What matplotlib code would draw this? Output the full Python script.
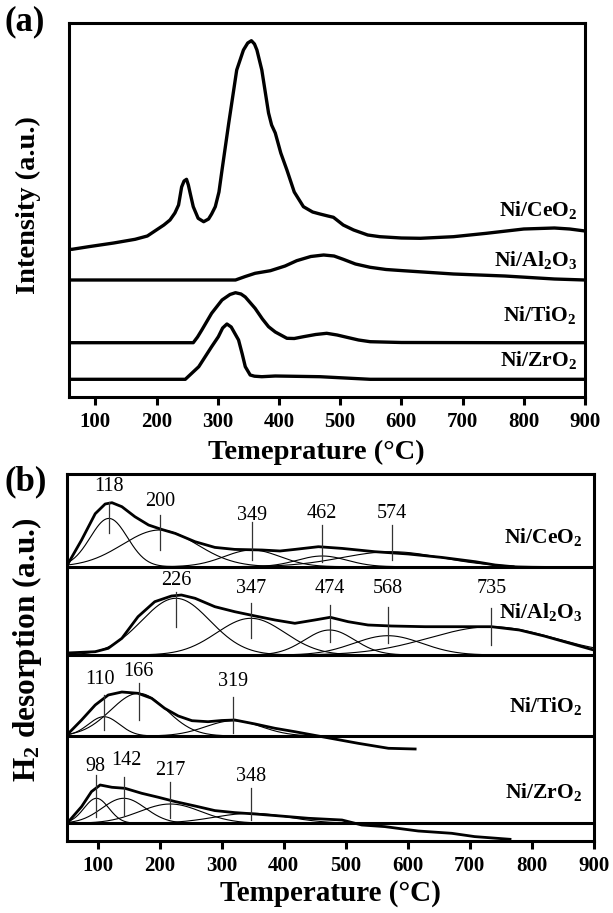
import numpy as np
import matplotlib.pyplot as plt

plt.rcParams['font.family'] = ['Liberation Serif', 'DejaVu Serif']
plt.rcParams['mathtext.fontset'] = 'custom'
plt.rcParams['mathtext.rm'] = 'Liberation Serif'
plt.rcParams['mathtext.bf'] = 'Liberation Serif:bold'

# ---------------- panel (a): TPR profiles (intensity, a.u.) ----------------
a_names = [r'$\mathbf{Ni/CeO_2}$', r'$\mathbf{Ni/Al_2O_3}$', r'$\mathbf{Ni/TiO_2}$', r'$\mathbf{Ni/ZrO_2}$']

ce_T = [57, 62, 89, 130, 165, 185, 198, 212, 222, 230, 236, 241, 245, 249, 252, 255, 260, 268, 277, 285, 290, 296,
        302, 307, 318, 331, 342, 349, 355, 360, 364, 372, 383, 388, 394, 403, 413, 425, 440, 455, 467, 480, 489, 505,
        522, 545, 565, 600, 631, 685, 739, 800, 850, 875, 900]
ce_I = [147.7, 147.7, 150.3, 154, 157.7, 161, 166.3, 172, 177, 184, 192, 210, 216, 217.7, 212, 203.7, 190.3, 178.7,
        175.3, 178, 183, 190.3, 205, 227, 274, 327, 347, 354, 356.3, 353, 347, 327, 284, 272, 264, 244, 227, 205,
        190.3, 185, 183, 181, 179.7, 172, 167, 162, 160.3, 159, 158.7, 160.3, 163.7, 168, 169, 168, 166]

al_T = [57, 329, 345, 361, 386, 410, 429, 452, 473, 490, 505, 525, 549, 575, 603, 685, 769, 850, 900]
al_I = [117, 117, 120.5, 123.7, 126.3, 131, 136.3, 140.5, 142, 141, 137.7, 133, 129.7, 127.5, 126.3, 123, 121, 118, 117]

ti_T = [57, 260, 267, 274, 290, 307, 320, 329, 338, 345, 361, 373, 383, 394, 413, 425, 440, 460, 478, 495, 511,
        530, 549, 600, 769, 900]
ti_I = [54.3, 54.3, 60, 67, 83.7, 97, 102.5, 104.3, 103, 100, 88.7, 78, 70.3, 65, 58.7, 58.5, 60.3, 62.5, 63.7, 62,
        59.7, 57, 55.3, 54.5, 54.3, 54.3]

zr_T = [57, 247, 258, 269, 290, 301, 308, 315, 322, 334, 340, 345, 353, 360, 372, 394, 467, 549, 900]
zr_I = [17.7, 17.7, 24, 30.3, 50.3, 60.3, 69, 73, 70, 57, 43, 30.3, 22, 20.8, 20.3, 21, 20.3, 17.7, 17.7]

# ---------------- panel (b): H2-TPD with deconvoluted peaks ----------------
b_names = a_names

ceb_T = [50, 54, 74, 96, 112, 123, 139, 160, 182, 203, 225, 257, 289, 321, 365, 394, 418, 456, 494, 547, 601, 655, 709, 741, 770]
ceb_I = [0, 5, 26.7, 53, 62.7, 64, 60, 50, 41.7, 37.3, 33.3, 25, 19.3, 17.3, 16.7, 15.7, 17.3, 20, 18.3, 15, 12.7, 9.3, 5, 1.7, 0]
ce_peaks = [118, 200, 349, 462, 574]
ce_amp = [48.3, 36.7, 16.7, 10.7, 15]
ce_wid = [30, 60, 45, 40, 80]

alb_T = [50, 96, 117, 139, 165, 192, 219, 235, 257, 289, 321, 354, 386, 418, 450, 475, 504, 536, 574, 628, 682, 735, 780, 820, 860, 900]
alb_I = [2, 3.3, 6.7, 16.7, 38.3, 53.3, 59, 60, 56.7, 48.3, 43.3, 39, 35, 31.7, 35, 37.7, 33.3, 30, 29, 28.3, 28.3, 28.3, 25, 19, 12, 5]
al_peaks = [226, 347, 474, 568, 735]
al_amp = [56.7, 36.7, 25, 19.3, 28.3]
al_wid = [55, 55, 40, 55, 100]

tib_T = [50, 53, 74, 96, 117, 139, 165, 187, 208, 230, 252, 278, 300, 321, 354, 386, 418, 467, 520, 569, 612]
tib_I = [0, 2.7, 16, 31, 41, 44, 42.7, 37.7, 27.7, 20, 15.3, 14.3, 15.5, 16, 12, 7.7, 4.3, -1.3, -7.3, -12.3, -13]
ti_peaks = [110, 166, 319]
ti_amp = [19.3, 42.7, 15.3]
ti_wid = [25, 45, 45]

zrb_T = [50, 53, 74, 90, 104, 123, 144, 171, 198, 225, 257, 289, 321, 354, 391, 440, 494, 526, 563, 617, 671, 708, 765]
zrb_I = [0, 1.7, 16.7, 31.7, 38.3, 36, 35, 30, 26, 21.7, 17.3, 12.7, 10.7, 9.3, 7.5, 5, 3.3, -1.7, -3.3, -7.7, -10, -13.3, -16]
zr_peaks = [98, 142, 217, 348]
zr_amp = [25, 25, 19.3, 10]
zr_wid = [20, 35, 50, 60]

ticks = [100, 200, 300, 400, 500, 600, 700, 800, 900]

# layout of panel (b): baselines, series label heights, peak label heights, marker line ranges
b_base = [274.0, 185.7, 104.7, 17.4]
b_name_y = [304, 228.7, 134.7, 49]
pk_text_y = [[354, 339, 325.7, 327.4, 327.4],
             [260.7, 252.4, 252.4, 252.4, 252.4],
             [161.4, 169, 159],
             [74, 80.7, 70.7, 64.7]]
pk_line = [[(339, 307.7), (325.7, 290.7), (318.7, 280.7), (315.7, 279), (315.7, 280.7)],
           [(249, 214), (237.7, 202.7), (235.7, 199), (234, 197.7), (232.7, 195.7)],
           [(145.7, 110.7), (157.7, 120.7), (144, 107.4)],
           [(65.7, 24), (64, 25.7), (59, 22.4), (52.4, 20.7)]]
pk_text_dx = [[0, 0, 0, 0, 0], [0, 0, 0, 0, 0], [-6, 0, 0], [-2, 4, 0, 0]]

W, H = 613, 913
fig = plt.figure(figsize=(W / 100, H / 100), dpi=100)
ax_a = fig.add_axes([69 / W, 1 - 397 / H, 516 / W, 374 / H])
ax_b = fig.add_axes([66.7 / W, 1 - 840.7 / H, 527 / W, 366.7 / H])


def style(ax, xmin, ymax):
    ax.set_xlim(xmin, 900)
    ax.set_ylim(0, ymax)
    ax.set_yticks([])
    ax.set_xticks(ticks)
    ax.tick_params(axis='x', direction='out', length=6, width=2.2, labelsize=15, pad=5)
    for t in ax.get_xticklabels():
        t.set_fontweight('bold')
    for s in ax.spines.values():
        s.set_linewidth(2.2)


# panel (a)
style(ax_a, 57, 374)
for T, I in [(ce_T, ce_I), (al_T, al_I), (ti_T, ti_I), (zr_T, zr_I)]:
    ax_a.plot(T, I, color='black', lw=2.4, solid_capstyle='round', solid_joinstyle='round')
for name, y in zip(a_names, [187, 137, 82, 37]):
    ax_a.text(887, y, name, fontsize=15.5, ha='right', va='center')
ax_a.set_xlabel('Temeprature (°C)', fontsize=20.5, fontweight='bold')
ax_a.xaxis.set_label_coords(0.479, -0.147, transform=ax_a.transAxes)
ax_a.xaxis.label.set_va('center')
fig.text(28 / W, 1 - 205 / H, 'Intensity (a.u.)', rotation=90, fontsize=20.5, fontweight='bold',
         ha='center', va='center')
fig.text(4 / W, 1 - 22 / H, '(a)', fontsize=25, fontweight='bold', ha='left', va='center')

# panel (b)
style(ax_b, 50, 366.7)
x = np.linspace(50, 900, 600)
groups = [(ceb_T, ceb_I, ce_peaks, ce_amp, ce_wid),
          (alb_T, alb_I, al_peaks, al_amp, al_wid),
          (tib_T, tib_I, ti_peaks, ti_amp, ti_wid),
          (zrb_T, zrb_I, zr_peaks, zr_amp, zr_wid)]
for k, (T, I, pk, amp, wid) in enumerate(groups):
    base = b_base[k]
    for c, a, w in zip(pk, amp, wid):
        ax_b.plot(x, base + a * np.exp(-(x - c) ** 2 / (2 * w ** 2)), color='black', lw=0.8)
    ax_b.plot(T, base + np.array(I), color='black', lw=2.0, solid_joinstyle='round')
    ax_b.axhline(base, color='black', lw=2.2)
    ax_b.text(882, b_name_y[k], b_names[k], fontsize=15.5, ha='right', va='center')
    for j, c in enumerate(pk):
        top, bot = pk_line[k][j]
        ax_b.plot([c, c], [bot, top], color='#333333', lw=0.9)
        ax_b.text(c + pk_text_dx[k][j], pk_text_y[k][j], str(c), fontsize=14.5, ha='center', va='center')
ax_b.set_xlabel('Temperature (°C)', fontsize=21, fontweight='bold', labelpad=3)
fig.text(27 / W, 1 - 650 / H, r'$\mathbf{H_2}$ desorption (a.u.)', rotation=90, fontsize=22.5,
         fontweight='bold', ha='center', va='center')
fig.text(4 / W, 1 - 482 / H, '(b)', fontsize=25, fontweight='bold', ha='left', va='center')

fig.savefig('out.png', dpi=100)
